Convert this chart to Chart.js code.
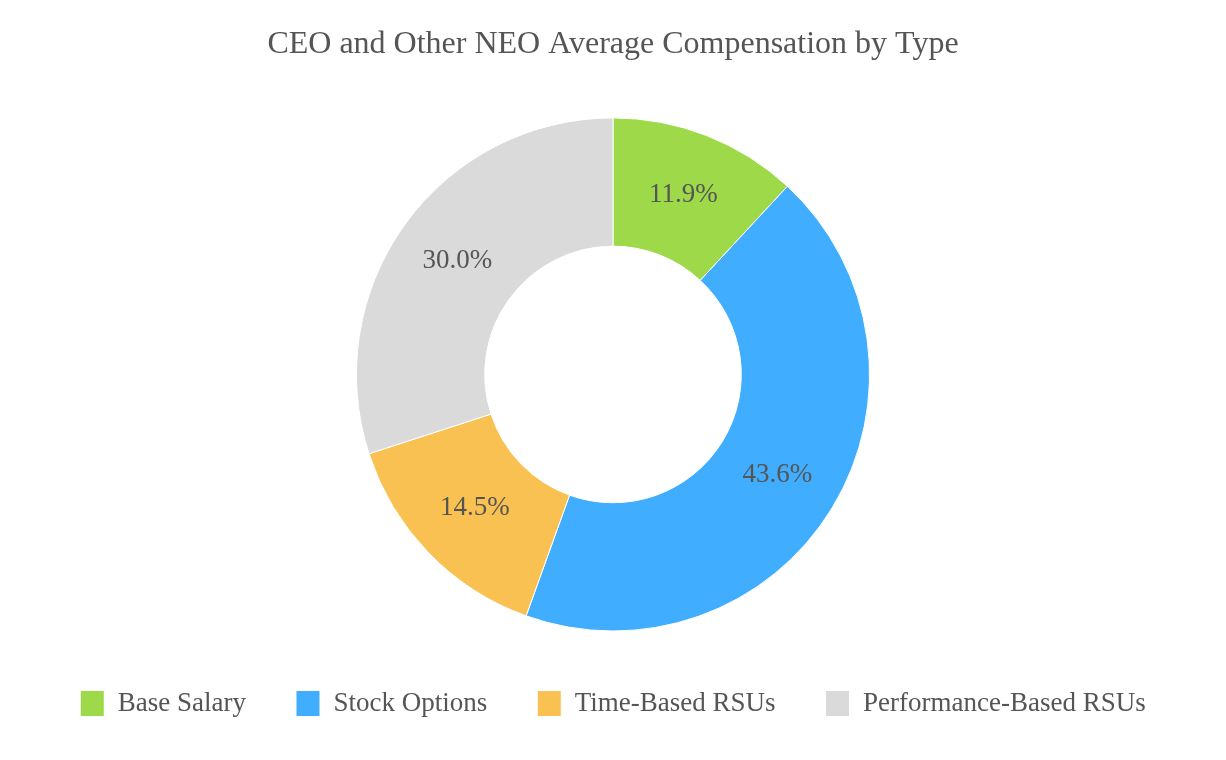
<!DOCTYPE html>
<html>
<head>
<meta charset="utf-8">
<script src="https://cdn.jsdelivr.net/npm/chart.js@4"></script>
<style>
  html, body { margin: 0; padding: 0; background: #fff; }
  #wrap { width: 1226px; height: 760px; position: relative; }
</style>
</head>
<body>
<div id="wrap"><canvas id="pie"></canvas></div>
<script>
// datos
const categorias = ["Base Salary", "Stock Options", "Time-Based RSUs", "Performance-Based RSUs"];
const valores = [11.9, 43.6, 14.5, 30.0];
const colores = ["#9ed94a", "#41adff", "#f9c152", "#dadada"];

// etiquetas de porcentaje dentro de cada segmento
const etiquetas = {
  id: "etiquetas",
  afterDatasetsDraw(chart) {
    const ctx = chart.ctx;
    const meta = chart.getDatasetMeta(0);
    ctx.save();
    ctx.font = "27px 'Liberation Serif', serif";
    ctx.fillStyle = "#555555";
    ctx.textAlign = "center";
    ctx.textBaseline = "middle";
    meta.data.forEach((arc, i) => {
      const p = arc.getProps(["x", "y", "startAngle", "endAngle", "innerRadius", "outerRadius"], true);
      const a = (p.startAngle + p.endAngle) / 2;
      const r = (p.innerRadius + p.outerRadius) / 2;
      ctx.fillText(valores[i].toFixed(1) + "%", p.x + Math.cos(a) * r, p.y + Math.sin(a) * r);
    });
    ctx.restore();
  }
};

new Chart(document.getElementById("pie").getContext("2d"), {
  type: "doughnut",
  data: {
    labels: categorias,
    datasets: [
      {
        data: valores,
        backgroundColor: colores,
        borderColor: "#ffffff",
        borderWidth: 1,
      },
    ],
  },
  options: {
    responsive: true,
    maintainAspectRatio: false,
    animation: false,
    cutout: "50%",
    layout: {
      padding: { top: 25, bottom: 33 },
    },
    plugins: {
      title: {
        display: true,
        text: "CEO and Other NEO Average Compensation by Type",
        color: "#555555",
        font: { family: "'Liberation Serif', serif", size: 32, weight: "normal" },
        padding: { top: 0, bottom: 54 },
      },
      legend: {
        position: "bottom",
        // titulo vacio solo para bajar un poco la leyenda
        title: { display: true, text: "", padding: 0, font: { size: 8.5, lineHeight: 1 } },
        labels: {
          color: "#555555",
          font: { family: "'Liberation Serif', serif", size: 27 },
          boxWidth: 24,
          boxHeight: 26,
          padding: 50,
        },
      },
      tooltip: { enabled: false },
    },
  },
  plugins: [etiquetas],
});
</script>
</body>
</html>
